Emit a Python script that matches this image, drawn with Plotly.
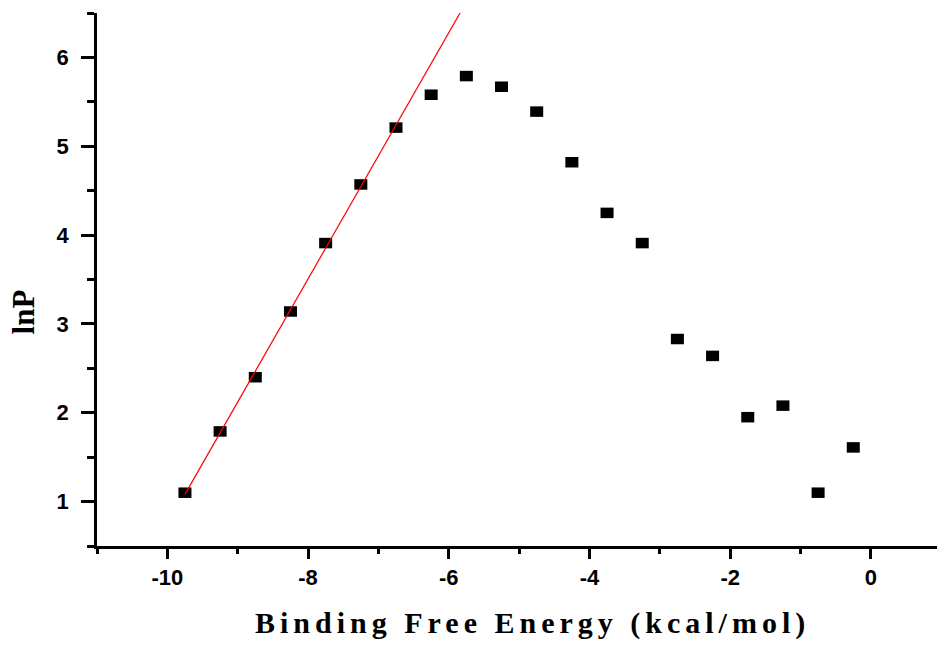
import numpy as np
import plotly.graph_objects as go

# Data
energy = [-9.75, -9.25, -8.75, -8.25, -7.75, -7.25, -6.75, -6.25, -5.75, -5.25,
          -4.75, -4.25, -3.75, -3.25, -2.75, -2.25, -1.75, -1.25, -0.75, -0.25]
lnP = [1.10, 1.79, 2.40, 3.14, 3.91, 4.57, 5.21, 5.58, 5.79, 5.67,
       5.39, 4.82, 4.25, 3.91, 2.83, 2.64, 1.95, 2.08, 1.10, 1.61]

n_fit = 7  # linear fit over the first points
slope, intercept = np.polyfit(energy[:n_fit], lnP[:n_fit], 1)
fit_x = np.array([energy[0], -5.0])
fit_y = slope * fit_x + intercept

x_tickvals = [-10, -8, -6, -4, -2, 0]
x_ticktext = ["-10", "-8", "-6", "-4", "-2", "0"]
y_tickvals = [1, 2, 3, 4, 5, 6]
y_ticktext = ["1", "2", "3", "4", "5", "6"]

fig = go.Figure()
fig.add_trace(go.Scatter(
    x=energy, y=lnP, mode="markers",
    marker=dict(symbol="line-ew", size=9.3, color="black",
                line=dict(color="black", width=10.5)),
    showlegend=False, cliponaxis=False,
))
fig.add_trace(go.Scatter(
    x=fit_x, y=fit_y, mode="lines",
    line=dict(color="red", width=1.2), showlegend=False,
))

axis_common = dict(
    showline=True, linecolor="black", linewidth=2.5, mirror=False,
    showgrid=False, zeroline=False, ticks="outside", tickcolor="black",
    tickwidth=2.5, tickfont=dict(family="Liberation Sans", size=22,
                                 color="black", weight="bold"),
)

fig.update_xaxes(range=[-11, 0.94], tickvals=x_tickvals, ticktext=x_ticktext,
                 ticklen=10,
                 minor=dict(ticks="outside", ticklen=5, tickwidth=2.5,
                            tickcolor="black", dtick=1, tick0=0),
                 **axis_common)
fig.update_yaxes(range=[0.5, 6.5], tickvals=y_tickvals, ticktext=y_ticktext,
                 ticklen=13, ticklabelstandoff=8,
                 minor=dict(ticks="outside", ticklen=7, tickwidth=2.5,
                            tickcolor="black", dtick=0.5, tick0=0),
                 **axis_common)

fig.add_annotation(
    text='<span style="letter-spacing:5px">Binding Free Energy (kcal/mol)</span>',
    xref="paper", yref="paper", x=0.518, y=-0.145, xanchor="center", yanchor="middle",
    showarrow=False,
    font=dict(family="Liberation Serif", size=30, color="black", weight="bold"),
)
fig.add_annotation(
    text="lnP", textangle=-90,
    xref="paper", yref="paper", x=-0.087, y=0.44, xanchor="center", yanchor="middle",
    showarrow=False,
    font=dict(family="Liberation Serif", size=31, color="black", weight="bold"),
)

fig.update_layout(
    width=937, height=645,
    margin=dict(l=97, r=0, t=13, b=99),
    plot_bgcolor="white", paper_bgcolor="white",
)

fig.write_html("out.html")
